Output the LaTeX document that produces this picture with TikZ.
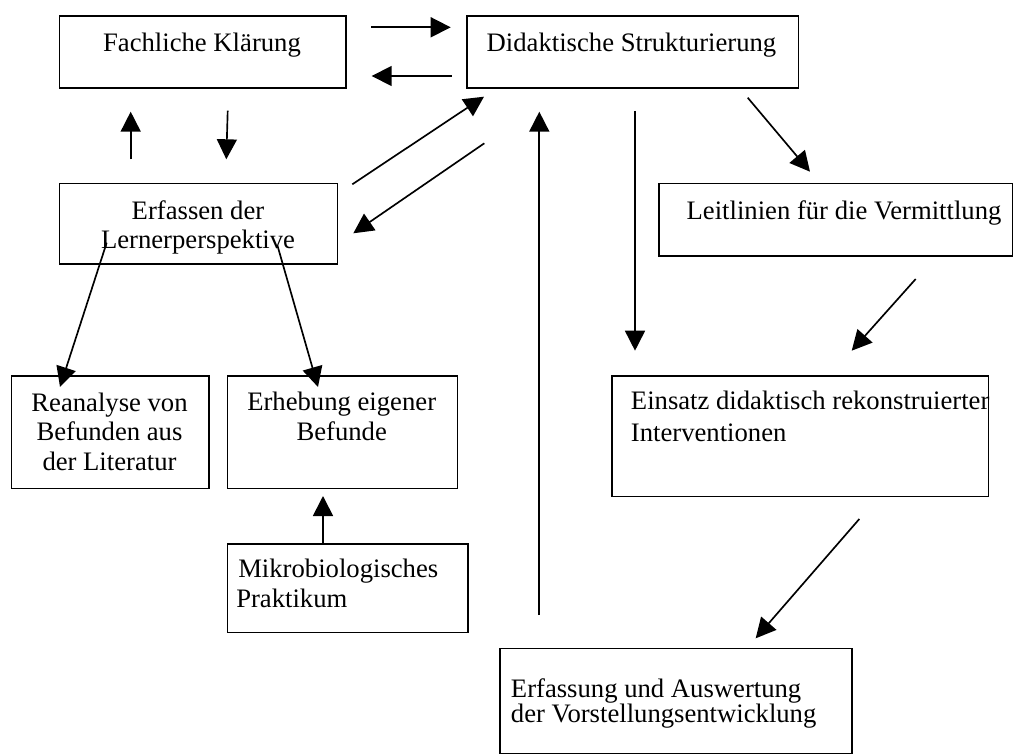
\documentclass[tikz,border=0pt]{standalone}
\usepackage{fontspec}
\setmainfont{Liberation Serif}
\usetikzlibrary{arrows.meta}
\tikzset{
  box/.style={draw, line width=1.3pt, inner sep=0pt, anchor=north west},
  txt/.style={inner sep=0pt, font=\fontsize{20}{22.1}\selectfont},
  arr/.style={line width=1.25pt, -{Triangle[length=15pt,width=15pt]}}
}
\begin{document}
\begin{tikzpicture}[x=0.75pt, y=-0.75pt]
\useasboundingbox (0,0) rectangle (1013,755);
% boxes
\node[box, minimum width=214.95pt, minimum height=54.2pt] (fk) at (58.7,15) {};
\node[box, minimum width=248.8pt, minimum height=54.2pt] (ds) at (466,15) {};
\node[box, minimum width=208.5pt, minimum height=60.45pt] (el) at (58.7,182.7) {};
\node[box, minimum width=264.9pt, minimum height=54.2pt] (ll) at (658.3,182.7) {};
\node[box, minimum width=148.2pt, minimum height=84.5pt] (ra) at (10.7,375) {};
\node[box, minimum width=172.5pt, minimum height=84.5pt] (eb) at (226.7,375) {};
\node[box, minimum width=282.5pt, minimum height=90.5pt] (ei) at (611,375) {};
\node[box, minimum width=180.45pt, minimum height=66.3pt] (mp) at (226.7,543.3) {};
\node[box, minimum width=264pt, minimum height=78.6pt] (ea) at (499,647.7) {};
% texts (multi-line nodes: base anchor = baseline of the last line)
\node[txt, anchor=base] (fkt) at (202,51.7) {Fachliche Klärung};
\node[txt, anchor=base] (dst) at (631.5,52) {Didaktische Strukturierung};
\node[txt, anchor=base, align=center] (elt) at (198,248.5) {Erfassen der\\Lernerperspektive};
\node[txt, anchor=base] (llt) at (844,220) {Leitlinien für die Vermittlung};
\node[txt, anchor=base, align=center] (rat) at (109.5,470) {Reanalyse von\\Befunden aus\\der Literatur};
\node[txt, anchor=base, align=center] (ebt) at (341.7,440.2) {Erhebung eigener\\Befunde};
\node[txt, anchor=base west, align=left, font=\fontsize{20}{23.8}\selectfont] (eit) at (630.7,441.7) {Einsatz didaktisch rekonstruierter\\Interventionen};
\node[txt, anchor=base west, align=left, font=\fontsize{20}{22.8}\selectfont] (mpt) at (236,607.7) {\hspace{1.5pt}Mikrobiologisches\\Praktikum};
\node[txt, anchor=base west, align=left, font=\fontsize{20}{17.6}\selectfont] (eat) at (510.7,722.8) {Erfassung und Auswertung\\der Vorstellungsentwicklung};
% connector end points
\coordinate (a1) at (371,27.3);   \coordinate (b1) at (450.7,27.3);
\coordinate (a2) at (451.7,76);   \coordinate (b2) at (371.7,76);
\coordinate (a3) at (130.7,159.3); \coordinate (b3) at (130.7,111.7);
\coordinate (a4) at (227.7,110.7); \coordinate (b4) at (226.3,159.3);
\coordinate (a5) at (352.3,184.3); \coordinate (b5) at (484,96.7);
\coordinate (a6) at (484.3,143.3); \coordinate (b6) at (353.3,233.3);
\coordinate (a7) at (106.7,242.7); \coordinate (b7) at (60,387);
\coordinate (a8) at (277.3,245);   \coordinate (b8) at (318,387);
\coordinate (a9) at (323,543.3);   \coordinate (b9) at (323,496);
\coordinate (a10) at (539.3,615);  \coordinate (b10) at (539.3,111.7);
\coordinate (a11) at (635,111);    \coordinate (b11) at (635,350.7);
\coordinate (a12) at (747.7,97.7); \coordinate (b12) at (810,171.7);
\coordinate (a13) at (915.7,279);  \coordinate (b13) at (851.7,350.7);
\coordinate (a14) at (859.3,519);  \coordinate (b14) at (755.7,638.3);
% connectors
\foreach \i in {1,...,14} { \draw[arr] (a\i) -- (b\i); }
\end{tikzpicture}
\end{document}
